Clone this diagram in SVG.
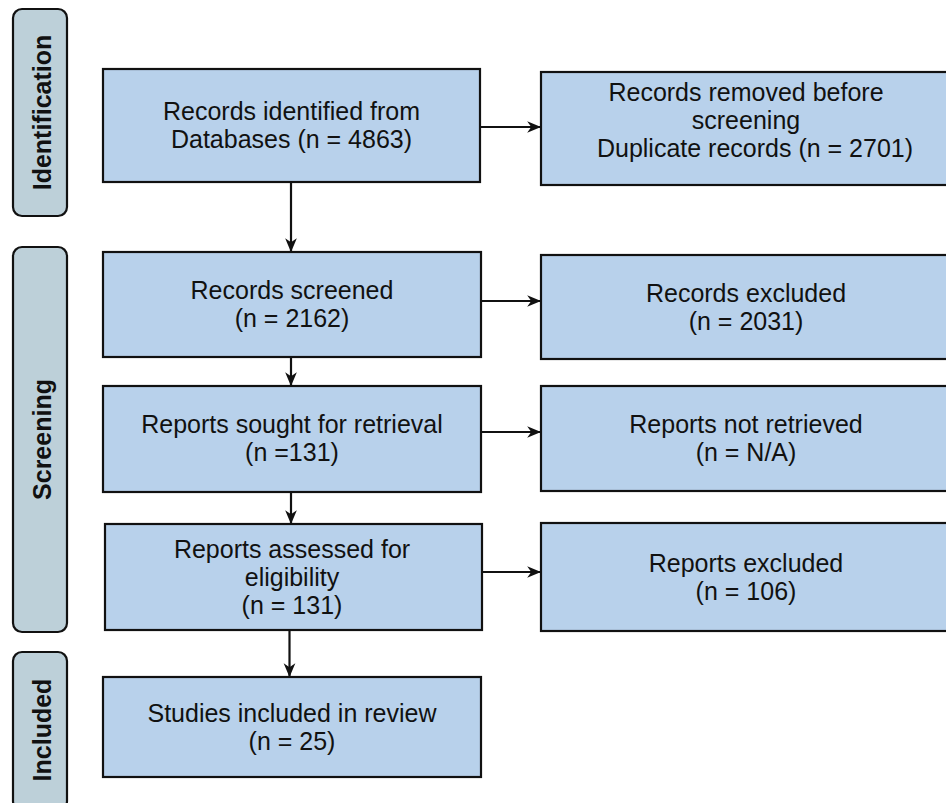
<svg xmlns="http://www.w3.org/2000/svg" width="946" height="803" viewBox="0 0 946 803">
<defs>
<style>
.box{fill:#b8d1eb;stroke:#111;stroke-width:2.2}
.lab{fill:#bdd0d9;stroke:#111;stroke-width:2.2}
.t{font-family:"Liberation Sans",Arial,Helvetica,sans-serif;font-size:25px;fill:#111;text-anchor:middle}
.lt{font-family:"Liberation Sans",Arial,Helvetica,sans-serif;font-size:25px;font-weight:bold;fill:#111;text-anchor:middle}
.c{fill:none;stroke:#111;stroke-width:2.2}
</style>
<marker id="ah" markerUnits="userSpaceOnUse" markerWidth="14" markerHeight="14" viewBox="0 0 12 12" refX="11" refY="6" orient="auto">
<path d="M0,1 L12,6 L0,11 L3.5,6 z" fill="#111"/>
</marker>
</defs>
<rect width="946" height="803" fill="#fff"/>

<g id="label-identification">
<rect class="lab" x="13" y="9" width="54" height="207" rx="9"/>
<text class="lt" transform="translate(50.5,112.5) rotate(-90)">Identification</text>
</g>
<g id="label-screening">
<rect class="lab" x="13" y="247" width="54" height="385" rx="9"/>
<text class="lt" transform="translate(50.5,439.5) rotate(-90)">Screening</text>
</g>
<g id="label-included">
<rect class="lab" x="13" y="652" width="54" height="158" rx="9"/>
<text class="lt" transform="translate(50.5,730) rotate(-90)">Included</text>
</g>

<g id="records-identified">
<rect class="box" x="103" y="69" width="377" height="113"/>
<text class="t" x="291.5" y="120">Records identified from</text>
<text class="t" x="291.5" y="148">Databases (n = 4863)</text>
</g>
<g id="records-removed">
<rect class="box" x="541" y="72" width="410" height="113"/>
<text class="t" x="746" y="101">Records removed before</text>
<text class="t" x="746" y="129">screening</text>
<text class="t" x="755" y="157">Duplicate records (n = 2701)</text>
</g>
<g id="records-screened">
<rect class="box" x="103" y="252" width="378" height="105"/>
<text class="t" x="292" y="299">Records screened</text>
<text class="t" x="292" y="327">(n = 2162)</text>
</g>
<g id="records-excluded">
<rect class="box" x="541" y="255" width="410" height="104"/>
<text class="t" x="746" y="302">Records excluded</text>
<text class="t" x="746" y="330">(n = 2031)</text>
</g>
<g id="reports-sought">
<rect class="box" x="103" y="386" width="378" height="106"/>
<text class="t" x="292" y="433">Reports sought for retrieval</text>
<text class="t" x="292" y="461">(n =131)</text>
</g>
<g id="reports-not-retrieved">
<rect class="box" x="541" y="386" width="410" height="105"/>
<text class="t" x="746" y="433">Reports not retrieved</text>
<text class="t" x="746" y="461">(n = N/A)</text>
</g>
<g id="reports-assessed">
<rect class="box" x="105" y="524" width="377" height="106"/>
<text class="t" x="292" y="558">Reports assessed for</text>
<text class="t" x="292" y="586">eligibility</text>
<text class="t" x="292" y="614">(n = 131)</text>
</g>
<g id="reports-excluded">
<rect class="box" x="541" y="523" width="410" height="108"/>
<text class="t" x="746" y="572">Reports excluded</text>
<text class="t" x="746" y="600">(n = 106)</text>
</g>
<g id="studies-included">
<rect class="box" x="103" y="677" width="378" height="100"/>
<text class="t" x="292" y="722">Studies included in review</text>
<text class="t" x="292" y="750">(n = 25)</text>
</g>

<g id="connectors">
<line class="c" x1="291" y1="182" x2="291" y2="251" marker-end="url(#ah)"/>
<line class="c" x1="291" y1="357" x2="291" y2="385" marker-end="url(#ah)"/>
<line class="c" x1="291" y1="492" x2="291" y2="523" marker-end="url(#ah)"/>
<line class="c" x1="289.5" y1="630" x2="289.5" y2="676" marker-end="url(#ah)"/>
<line class="c" x1="480" y1="127" x2="540" y2="127" marker-end="url(#ah)"/>
<line class="c" x1="481" y1="301" x2="540" y2="301" marker-end="url(#ah)"/>
<line class="c" x1="481" y1="432" x2="540" y2="432" marker-end="url(#ah)"/>
<line class="c" x1="482" y1="572" x2="540" y2="572" marker-end="url(#ah)"/>
</g>
</svg>
